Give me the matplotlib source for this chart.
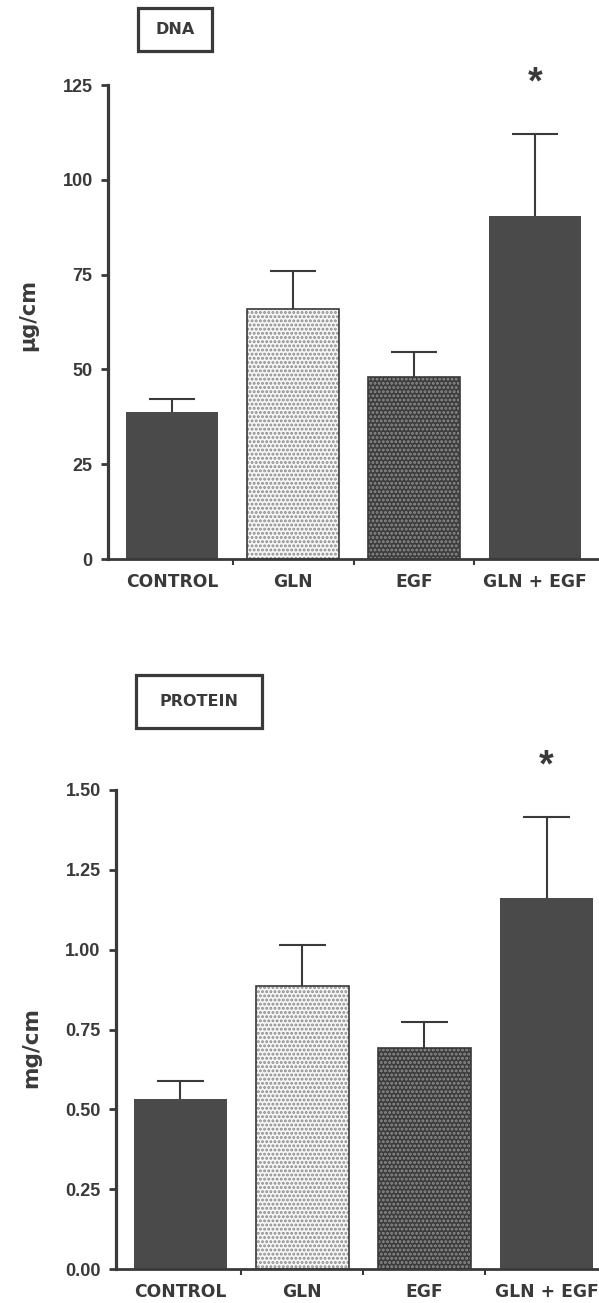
import numpy as np
import matplotlib.pyplot as plt
from matplotlib.patches import Rectangle

categories = ["CONTROL", "GLN", "EGF", "GLN + EGF"]
dna_mean = [38.8, 65.9, 48.0, 90.5]
dna_sem = [3.4, 10.0, 6.6, 21.6]
protein_mean = [0.532, 0.886, 0.692, 1.162]
protein_sem = [0.057, 0.129, 0.082, 0.254]
significant = [False, False, False, True]
dna_ticks = [0, 25, 50, 75, 100, 125]
protein_ticks = [0.0, 0.25, 0.5, 0.75, 1.0, 1.25, 1.5]

INK = "#3a3a3a"
DARK = "#4a4a4a"
BAR_W = 0.76
CAP = 0.19

plt.rcParams["hatch.linewidth"] = 1.4

# solid dark, light stipple, dark stipple, solid dark
fills = [
    {"face": DARK},
    {"face": "#f6f6f6", "dots": "#8a8a8a"},
    {"face": "#3c3c3c", "dots": "#8e8e8e"},
    {"face": DARK},
]


def draw_panel(ax, means, sems, ticks, fmt, xlim):
    x = np.arange(len(categories))
    tops = np.array(means) + np.array(sems)
    # upper error bars only
    ax.vlines(x, means, tops, color=INK, linewidth=1.5, zorder=1)
    ax.hlines(tops, x - CAP, x + CAP, color=INK, linewidth=1.5, zorder=1)
    for i, st in enumerate(fills):
        if "dots" in st:
            ax.bar(x[i], means[i], BAR_W, color=st["face"],
                   edgecolor=st["dots"], hatch="....", linewidth=0,
                   zorder=2)
            ax.bar(x[i], means[i], BAR_W, fill=False, edgecolor=INK,
                   linewidth=1.2, zorder=3)
        else:
            ax.bar(x[i], means[i], BAR_W, color=st["face"], linewidth=0,
                   zorder=2)

    # asterisk over the significant group
    for i, sig in enumerate(significant):
        if sig:
            ax.annotate("*", (x[i], tops[i]),
                        xytext=(0, 36), textcoords="offset points",
                        ha="center", va="center", fontsize=27,
                        fontweight="bold", color=INK,
                        family="Liberation Sans", annotation_clip=False)

    ax.set_xlim(*xlim)
    ax.set_ylim(0, ticks[-1])
    ax.set_yticks(ticks, [fmt.format(t) for t in ticks])
    ax.set_xticks(x, categories)
    ax.set_xticks(x[:-1] + 0.5, minor=True)

    for s in ["top", "right"]:
        ax.spines[s].set_visible(False)
    ax.spines["left"].set_linewidth(2.3)
    ax.spines["bottom"].set_linewidth(2.0)
    ax.spines["left"].set_color(INK)
    ax.spines["bottom"].set_color(INK)

    ax.tick_params(axis="y", length=5, width=2, color=INK, pad=6,
                   labelcolor=INK)
    ax.tick_params(axis="x", which="major", length=0, pad=10,
                   labelcolor=INK)
    ax.tick_params(axis="x", which="minor", length=4, width=1.5, color=INK)
    for lab in ax.get_yticklabels():
        lab.set_fontfamily("Liberation Sans")
        lab.set_fontweight("bold")
        lab.set_fontsize(13)
    for lab in ax.get_xticklabels():
        lab.set_fontfamily("DejaVu Sans")
        lab.set_fontweight("bold")
        lab.set_fontsize(12.3)


def title_box(fig, x0, y0, x1, y1, text):
    W, H = 599, 1303
    fig.patches.append(Rectangle((x0 / W, 1 - y1 / H), (x1 - x0) / W,
                                 (y1 - y0) / H, transform=fig.transFigure,
                                 fill=False, edgecolor=INK, linewidth=2.3))
    fig.text((x0 + x1) / 2 / W, 1 - (y0 + y1) / 2 / H, text, ha="center",
             va="center", fontsize=11.5, fontweight="bold", color=INK,
             family="DejaVu Sans")


fig = plt.figure(figsize=(5.99, 13.03), dpi=100)

ax1 = fig.add_axes([108 / 599, 1 - 559 / 1303, 1 - 108 / 599, 474 / 1303])
draw_panel(ax1, dna_mean, dna_sem, dna_ticks, "{:g}", (-0.53, 3.53))

ax2 = fig.add_axes([116 / 599, 1 - 1269 / 1303, 1 - 116 / 599, 479 / 1303])
draw_panel(ax2, protein_mean, protein_sem, protein_ticks, "{:.2f}",
           (-0.527, 3.43))

title_box(fig, 138, 8, 212, 51, "DNA")
title_box(fig, 136, 675, 262, 728, "PROTEIN")

fig.text(28 / 599, 1 - 315 / 1303, "µg/cm", rotation=90, ha="center",
         va="center", fontsize=15, fontweight="bold", color=INK,
         family="DejaVu Sans")
fig.text(31 / 599, 1 - 1047 / 1303, "mg/cm", rotation=90, ha="center",
         va="center", fontsize=15.5, fontweight="bold", color=INK,
         family="DejaVu Sans")

fig.savefig("out.png", dpi=100)
